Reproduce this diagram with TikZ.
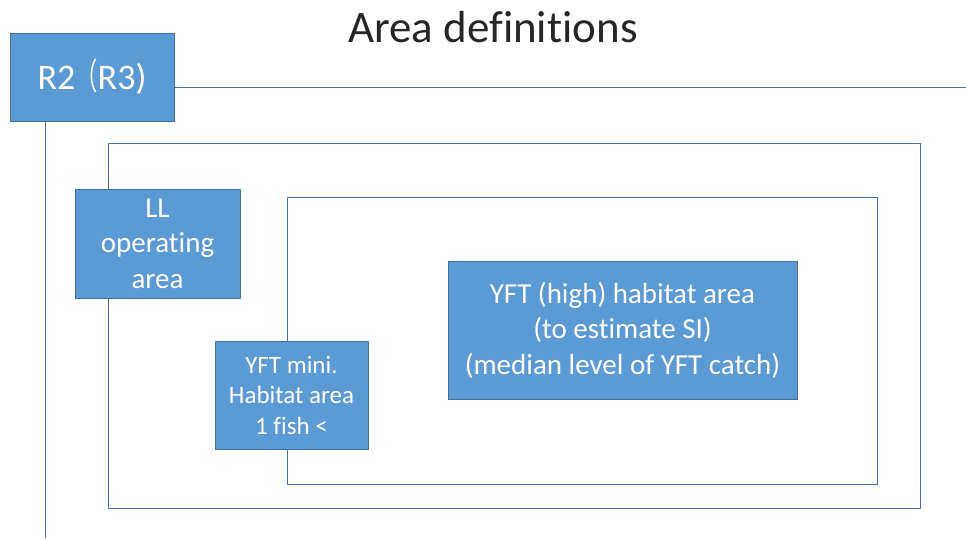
\documentclass[tikz,border=0pt]{standalone}
\usepackage{fontspec}
\usepackage{graphicx}
\setmainfont{Carlito}[Ligatures=NoCommon]
\newfontfamily\cjk{Noto Sans CJK JP}
\definecolor{boxfill}{RGB}{91,155,213}
\definecolor{boxline}{RGB}{65,113,156}
\definecolor{frameline}{RGB}{70,114,170}
\tikzset{
  bluebox/.style={draw=boxline, fill=boxfill, line width=1pt, text=white, align=center, inner sep=0pt, minimum width=#1},
  frameline/.style={draw=frameline, line width=1pt},
}
\begin{document}
\begin{tikzpicture}[x=1pt,y=-1pt]
\useasboundingbox (0,0) rectangle (966,538);
% title
\node[anchor=base, inner sep=0pt, font=\fontsize{45}{54}\selectfont, text=black!85] (title) at (493,42) {Area definitions};
% frames
\draw[frameline] (108,143) rectangle (920,508);
\draw[frameline] (287,197) rectangle (877,484);
% R2 box and its lines
\node[bluebox=164pt, minimum height=88pt, font=\fontsize{36}{44}\selectfont] (r2) at (92,77) {R2\scalebox{0.62}[1]{\cjk （}R3)};
\coordinate (hend) at (966,87);
\coordinate (vend) at (45,538);
\draw[frameline] (r2.east |- hend) -- (hend);
\draw[frameline] (r2.south -| vend) -- (vend);
% boxes
\node[bluebox=165pt, minimum height=109pt, font=\fontsize{29}{35.4}\selectfont] (ll) at (157.5,243.5) {LL\\operating\\area};
\node[bluebox=153pt, minimum height=108pt, font=\fontsize{25}{30.5}\selectfont] (mini) at (291.5,395) {YFT mini.\\Habitat area\\1 fish <};
\node[bluebox=349pt, minimum height=138pt, font=\fontsize{29}{35.4}\selectfont] (high) at (622.5,330) {YFT (high) habitat area\\(to estimate SI)\\(median level of YFT catch)};
\end{tikzpicture}
\end{document}
